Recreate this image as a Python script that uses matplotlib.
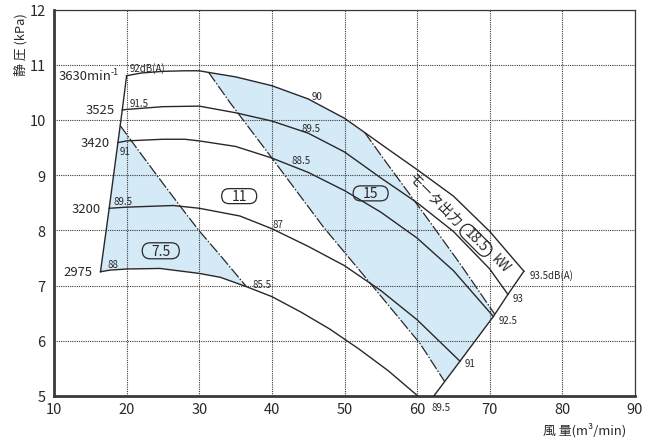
import numpy as np
import matplotlib.pyplot as plt
from matplotlib.patches import FancyBboxPatch
from matplotlib.transforms import Affine2D, ScaledTranslation

plt.rcParams['font.family'] = ['Noto Sans CJK JP', 'DejaVu Sans']

# 回転数ごとの性能曲線 (風量 m3/min, 静圧 kPa)
q_3630 = [20.0, 22.0, 25.0, 28.0, 30.0, 31.3, 35.0, 40.0, 45.0, 50.0, 52.8, 56.0, 60.0, 65.0, 70.0, 74.7]
p_3630 = [10.80, 10.85, 10.88, 10.89, 10.89, 10.86, 10.78, 10.62, 10.38, 10.03, 9.77, 9.47, 9.10, 8.62, 7.98, 7.26]

q_3525 = [19.4, 20.0, 25.0, 30.0, 35.0, 40.0, 45.0, 50.0, 55.0, 60.0, 65.0, 70.0, 72.5]
p_3525 = [10.18, 10.19, 10.24, 10.25, 10.13, 9.98, 9.76, 9.42, 8.95, 8.50, 7.98, 7.30, 6.84]

q_3420 = [18.8, 20.0, 25.0, 28.0, 30.0, 35.0, 40.0, 45.0, 50.0, 55.0, 60.0, 65.0, 70.5]
p_3420 = [9.59, 9.62, 9.65, 9.65, 9.62, 9.52, 9.31, 9.05, 8.72, 8.33, 7.86, 7.27, 6.44]

q_3200 = [17.6, 20.0, 26.4, 30.0, 35.6, 40.0, 45.0, 50.0, 55.0, 60.0, 65.9]
p_3200 = [8.40, 8.42, 8.45, 8.40, 8.26, 8.03, 7.71, 7.36, 6.91, 6.38, 5.63]

q_2975 = [16.4, 17.7, 20.0, 24.6, 30.0, 32.9, 36.5, 40.0, 44.0, 48.0, 52.0, 56.0, 60.1]
p_2975 = [7.25, 7.28, 7.30, 7.31, 7.22, 7.15, 6.98, 6.80, 6.52, 6.21, 5.85, 5.46, 5.00]

# 最大風量ライン
q_max = [74.7, 72.5, 70.5, 65.9, 62.3]
p_max = [7.26, 6.84, 6.44, 5.63, 5.00]

# モータ出力の境界線
q_div_75 = [19.1, 22.0, 25.0, 28.0, 30.0, 33.0, 36.5]
p_div_75 = [9.90, 9.38, 8.85, 8.33, 7.99, 7.53, 6.98]
q_div_11 = [31.3, 34.2, 40.0, 47.1, 53.5, 60.4, 63.8]
p_div_11 = [10.86, 10.32, 9.31, 8.06, 7.05, 5.95, 5.26]
q_div_15 = [52.8, 55.3, 58.6, 61.5, 66.1, 70.7]
p_div_15 = [9.77, 9.31, 8.72, 8.20, 7.36, 6.48]

speeds = ['3630', '3525', '3420', '3200', '2975']
db_start = ['92dB(A)', '91.5', '91', '89.5', '88']
db_mid = ['90', '89.5', '88.5', '87', '85.5']
db_end = ['93.5dB(A)', '93', '92.5', '91', '89.5']
motor_kw = ['7.5', '11', '15', '18.5']

curves = [(q_3630, p_3630), (q_3525, p_3525), (q_3420, p_3420),
          (q_3200, p_3200), (q_2975, p_2975)]

ink = '#2b2728'
blue = '#d4eaf7'

fig = plt.figure(figsize=(6.56, 4.39), dpi=100)
ax = fig.add_axes([54/656, 42/439, 581/656, 386.5/439])
ax.set_xlim(10, 90)
ax.set_ylim(5, 12)

# 7.5kW 領域
q2 = np.array(q_2975)
p2 = np.array(p_2975)
m = q2 <= q_div_75[-1]
poly_x = q_div_75 + list(q2[m][::-1])
poly_y = p_div_75 + list(p2[m][::-1])
ax.fill(poly_x, poly_y, color=blue, lw=0, zorder=1)

# 15kW 領域
qa = np.array(q_3630)
pa = np.array(p_3630)
m = (qa >= q_div_11[0]) & (qa <= q_div_15[0])
qm = np.array(q_max)
pm = np.array(p_max)
mm = (qm > q_div_11[-1]) & (qm < q_div_15[-1])
poly_x = q_div_11 + list(qm[mm][::-1]) + q_div_15[::-1] + list(qa[m][::-1])
poly_y = p_div_11 + list(pm[mm][::-1]) + p_div_15[::-1] + list(pa[m][::-1])
ax.fill(poly_x, poly_y, color=blue, lw=0, zorder=1)

for q, p in curves:
    ax.plot(q, p, color=ink, lw=1.0, zorder=3)

# 左端・右端の境界
ax.plot([c[0][0] for c in curves], [c[1][0] for c in curves], color=ink, lw=1.0, zorder=3)
ax.plot(q_max, p_max, color=ink, lw=1.0, zorder=3, clip_on=False)

dash = (0, (9, 1.5, 1.2, 1.5))
for q, p in [(q_div_75, p_div_75), (q_div_11, p_div_11), (q_div_15, p_div_15)]:
    ax.plot(q, p, color=ink, lw=0.9, linestyle=dash, zorder=3)

# 回転数ラベル
for (q, p), s in zip(curves, speeds):
    if s == '3630':
        ax.annotate(s + 'min', (q[0], p[0]), xytext=(-15, 0), textcoords='offset pixels',
                    ha='right', va='center', fontsize=9.4, color=ink)
        ax.annotate('-1', (q[0], p[0]), xytext=(-8, 4), textcoords='offset pixels',
                    ha='right', va='center', fontsize=6.5, color=ink)
    else:
        ax.annotate(s, (q[0], p[0]), xytext=(-8, 0), textcoords='offset pixels',
                    ha='right', va='center', fontsize=9.4, color=ink)

# 騒音値
small = dict(fontsize=7, color=ink, va='center', ha='left')
start_pos = [(20.4, 10.94), (20.4, 10.30), (19.1, 9.44), (18.15, 8.53), (17.3, 7.39)]
mid_pos = [(45.5, 10.43), (44.1, 9.85), (42.7, 9.27), (40.1, 8.12), (37.35, 7.02)]
end_pos = [(75.45, 7.20), (73.2, 6.78), (71.2, 6.38), (66.6, 5.59), (62.0, 4.80)]
for t, xy in zip(db_start, start_pos):
    ax.text(xy[0], xy[1], t, **small)
for t, xy in zip(db_mid, mid_pos):
    ax.text(xy[0], xy[1], t, **small)
for t, xy in zip(db_end, end_pos):
    ax.text(xy[0], xy[1], t, clip_on=False, **small)


# モータ出力ラベル (丸囲み)
def pill(x, y, text, w, h, angle=0, size=10):
    tr = Affine2D().rotate_deg(angle) + fig.dpi_scale_trans + ScaledTranslation(x, y, ax.transData)
    w, h = w / 100, h / 100
    ax.add_patch(FancyBboxPatch((-w / 2, -h / 2), w, h,
                                boxstyle='round,pad=0,rounding_size=%f' % (h / 2),
                                transform=tr, fc='none', ec=ink, lw=0.9, zorder=4))
    a = np.deg2rad(angle)
    up = 1.6
    ax.annotate(text, (x, y), xytext=(-up * np.sin(a), up * np.cos(a)),
                textcoords='offset pixels', fontsize=size, color=ink,
                ha='center', va='center_baseline', rotation=angle,
                rotation_mode='anchor', zorder=4)


pill(24.7, 7.63, motor_kw[0], 37, 16)
pill(35.5, 8.62, motor_kw[1], 35, 15)
pill(53.6, 8.67, motor_kw[2], 35, 15)
pill(68.1, 7.82, motor_kw[3], 38, 15, angle=-45, size=10)

ax.text(62.6, 8.57, 'モータ出力', fontsize=10, color=ink, ha='center', va='center_baseline',
        rotation=-45, rotation_mode='anchor')
ax.text(71.7, 7.42, 'kW', fontsize=10, color=ink, ha='center', va='center_baseline',
        rotation=-45, rotation_mode='anchor')

ax.set_xticks(range(10, 91, 10))
ax.set_yticks(range(5, 13))
ax.grid(True, color='#3a3a3a', linestyle=(0, (1, 1)), lw=0.8)
ax.tick_params(length=0, labelsize=10.5, colors=ink)
ax.tick_params(axis='x', pad=4)
ax.tick_params(axis='y', pad=6)

for side in ['left', 'bottom']:
    ax.spines[side].set_linewidth(2.0)
    ax.spines[side].set_color('#3a3a3a')
for side in ['top', 'right']:
    ax.spines[side].set_linewidth(0.9)
    ax.spines[side].set_color('#3a3a3a')

ax.text(-0.057, 0.913, '静 圧 (kPa)', transform=ax.transAxes, rotation=90,
        ha='center', va='center', fontsize=9.3, color=ink)
ax.text(0.914, -0.085, '風 量(m³/min)', transform=ax.transAxes,
        ha='center', va='center', fontsize=9.3, color=ink)

fig.savefig('out.png', dpi=100)
